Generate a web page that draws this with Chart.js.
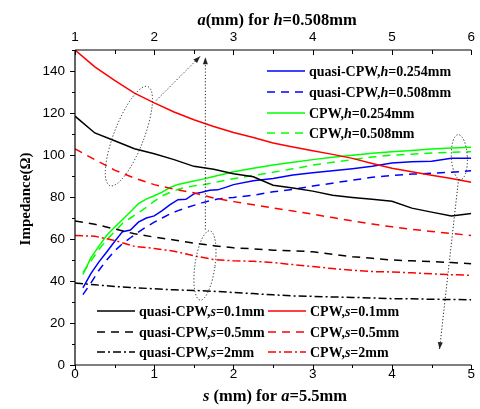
<!DOCTYPE html>
<html>
<head>
<meta charset="utf-8">
<script src="https://cdn.jsdelivr.net/npm/chart.js@4.4.0/dist/chart.umd.min.js"></script>
<style>
  html, body { margin: 0; padding: 0; background: #fff; }
</style>
</head>
<body>
<canvas id="chart" width="480" height="409"></canvas>
<script>
// bottom axis: s (mm), used by the h curves
const S_VALUES = [0.1, 0.2, 0.3, 0.4, 0.5, 0.6, 0.7, 0.8, 0.9, 1.0, 1.1, 1.2, 1.3, 1.4, 1.5, 1.6, 1.7, 1.8, 1.9, 2.0,
  2.25, 2.5, 2.75, 3.0, 3.25, 3.5, 3.75, 4.0, 4.25, 4.5, 4.75, 5.0];
const QUASI_H254 = [36.7, 43.5, 49, 53.8, 58.8, 63.5, 64.3, 68, 70, 71, 73.5, 76.4, 78.7, 78.9, 81.5, 82.3, 83.2, 83.4, 84.6, 85.9,
  87.7, 88.8, 90.5, 91.6, 92.5, 93.5, 94.6, 96.2, 96.8, 97, 98.4, 98.4];
const QUASI_H508 = [33.5, 39, 45, 50, 54.3, 57.8, 60.6, 63.3, 65.8, 68, 70, 72, 73.5, 74.8, 76, 77.2, 78.2, 79, 79.5, 79.8,
  80.8, 82.5, 83.6, 85.2, 86.6, 88, 89.4, 90.3, 90.9, 91.3, 91.8, 92.5];
const CPW_H254 = [43.1, 51, 56.5, 61.8, 65.6, 69.3, 73, 76.8, 79, 80.6, 82.3, 84.5, 86, 86.8, 87.6, 88.4, 89.3, 90.2, 91.1, 92,
  93.7, 95.2, 96.5, 97.8, 98.9, 99.9, 100.8, 101.6, 102.2, 102.8, 103.3, 103.7];
const CPW_H508 = [44, 49.5, 55, 59.5, 63.5, 67.5, 70, 72.5, 75, 78, 80.5, 82.2, 83.6, 84.6, 85.3, 85.8, 86.4, 87.2, 88, 88.7,
  90.3, 91.8, 93.4, 95.2, 96.5, 97.8, 99, 99.9, 100.4, 100.9, 101.3, 101.6];

// top axis: a (mm), used by the s curves
const A_VALUES = [1, 1.25, 1.5, 1.75, 2, 2.25, 2.5, 2.75, 3, 3.25, 3.5, 3.75, 4, 4.25, 4.5, 4.75, 5, 5.25, 5.5, 5.75, 6];
const QUASI_S01 = [118.5, 110.5, 106.8, 103, 100.6, 97.8, 94.6, 93.2, 91.1, 89.6, 85.6, 84.3, 82.8, 80.8, 79.8, 78.9, 78, 74.7, 72.8, 70.9, 72.1];
const CPW_S01 = [150, 142, 135.5, 129.5, 124.8, 120.5, 116.8, 113.6, 110.7, 108.3, 105.7, 103.8, 102, 100.3, 98.4, 96, 93.7, 92, 90.4, 88.8, 87];
const QUASI_S05 = [68.6, 67, 64.8, 62.5, 60.9, 59.5, 58, 56.8, 55.8, 55.3, 54.7, 54.4, 53.9, 52.7, 51.6, 50.8, 50, 49.6, 49.2, 48.8, 48.2];
const CPW_S05 = [102.9, 97.8, 92.8, 89, 85.9, 83.7, 82, 79.5, 77.8, 76.3, 74.8, 73.3, 71.8, 70.2, 68.6, 67.1, 65.8, 64.6, 63.6, 62.6, 61.7];
const QUASI_S2 = [39.1, 38.2, 37.4, 36.8, 36.3, 35.8, 35.5, 35.1, 34.5, 34, 33.4, 32.9, 32.7, 32.4, 32.2, 31.9, 31.6, 31.5, 31.3, 31.2, 31.1];
const CPW_S2 = [61.7, 61.3, 59.3, 56.5, 55.5, 54.2, 52, 50.2, 49.6, 49.4, 48.8, 47.8, 46.9, 45.9, 45.1, 44.5, 44.3, 43.9, 43.4, 43, 42.7];

const S_TICKS = [0, 1, 2, 3, 4, 5];
const A_TICKS = [1, 2, 3, 4, 5, 6];
const Y_TICKS = [0, 20, 40, 60, 80, 100, 120, 140];

const BLUE = '#0000ff', GREEN = '#00ff00', RED = '#ff0000', BLACK = '#000000';
const SOLID = [], DASH = [8, 6], DASHDOT = [8, 3, 2, 3];

function pts(xs, ys) {
  return xs.map((x, i) => ({ x: x, y: ys[i] }));
}

function series(label, xs, ys, color, dash, axis) {
  return {
    label: label,
    data: pts(xs, ys),
    borderColor: color,
    borderDash: dash,
    borderWidth: 1.5,
    pointRadius: 0,
    tension: 0,
    fill: false,
    xAxisID: axis
  };
}

const datasets = [
  series('quasi-CPW,s=2mm', A_VALUES, QUASI_S2, BLACK, DASHDOT, 'x2'),
  series('CPW,s=2mm', A_VALUES, CPW_S2, RED, DASHDOT, 'x2'),
  series('quasi-CPW,s=0.5mm', A_VALUES, QUASI_S05, BLACK, DASH, 'x2'),
  series('CPW,s=0.5mm', A_VALUES, CPW_S05, RED, DASH, 'x2'),
  series('quasi-CPW,s=0.1mm', A_VALUES, QUASI_S01, BLACK, SOLID, 'x2'),
  series('CPW,s=0.1mm', A_VALUES, CPW_S01, RED, SOLID, 'x2'),
  series('quasi-CPW,h=0.508mm', S_VALUES, QUASI_H508, BLUE, DASH, 'x'),
  series('CPW,h=0.508mm', S_VALUES, CPW_H508, GREEN, DASH, 'x'),
  series('quasi-CPW,h=0.254mm', S_VALUES, QUASI_H254, BLUE, SOLID, 'x'),
  series('CPW,h=0.254mm', S_VALUES, CPW_H254, GREEN, SOLID, 'x')
];

const SERIF = '"Liberation Serif", "Times New Roman", serif';

// text with italic pieces, parts = [[text, italic], ...]
function richText(ctx, parts, x, y, size, align) {
  const fonts = parts.map(p => (p[1] ? 'italic ' : '') + 'bold ' + size + 'px ' + SERIF);
  let w = 0;
  parts.forEach((p, i) => { ctx.font = fonts[i]; w += ctx.measureText(p[0]).width; });
  let cx = align === 'center' ? x - w / 2 : x;
  ctx.textAlign = 'left';
  parts.forEach((p, i) => {
    ctx.font = fonts[i];
    ctx.fillText(p[0], cx, y);
    cx += ctx.measureText(p[0]).width;
  });
}

function legendRow(ctx, x, y, color, dash, parts) {
  ctx.save();
  ctx.strokeStyle = color;
  ctx.lineWidth = 1.5;
  ctx.setLineDash(dash);
  ctx.beginPath();
  ctx.moveTo(x, y);
  ctx.lineTo(x + 38, y);
  ctx.stroke();
  ctx.restore();
  ctx.fillStyle = '#000';
  ctx.textBaseline = 'middle';
  richText(ctx, parts, x + 42, y + 1, 14, 'left');
}

function dottedArrow(ctx, x1, y1, x2, y2) {
  ctx.beginPath();
  ctx.moveTo(x1, y1);
  ctx.lineTo(x2, y2);
  ctx.stroke();
  const ang = Math.atan2(y2 - y1, x2 - x1);
  ctx.save();
  ctx.setLineDash([]);
  ctx.beginPath();
  ctx.moveTo(x2, y2);
  ctx.lineTo(x2 - 7 * Math.cos(ang) + 2.5 * Math.sin(ang), y2 - 7 * Math.sin(ang) - 2.5 * Math.cos(ang));
  ctx.lineTo(x2 - 7 * Math.cos(ang) - 2.5 * Math.sin(ang), y2 - 7 * Math.sin(ang) + 2.5 * Math.cos(ang));
  ctx.closePath();
  ctx.fill();
  ctx.restore();
}

const decor = {
  id: 'decor',
  afterDraw(chart) {
    const ctx = chart.ctx;
    const ca = chart.chartArea;
    const sx = chart.scales.x, ax = chart.scales.x2, y = chart.scales.y;
    ctx.save();

    // axis lines
    ctx.strokeStyle = '#000';
    ctx.lineWidth = 1.2;
    ctx.beginPath();
    ctx.moveTo(ca.left, ca.top); ctx.lineTo(ca.left, ca.bottom);
    ctx.moveTo(ca.left, ca.bottom); ctx.lineTo(ca.right, ca.bottom);
    ctx.moveTo(ca.left, ca.top); ctx.lineTo(ca.right, ca.top);
    ctx.stroke();

    // ticks: y and bottom outward, top inward
    ctx.lineWidth = 1;
    ctx.beginPath();
    for (let v = 0; v <= 150; v += 10) {
      const py = Math.round(y.getPixelForValue(v)) + 0.5;
      const len = v % 20 === 0 ? 5 : 3;
      ctx.moveTo(ca.left, py); ctx.lineTo(ca.left - len, py);
    }
    for (let v = 0; v <= 5; v += 0.5) {
      const px = Math.round(sx.getPixelForValue(v)) + 0.5;
      const len = v % 1 === 0 ? 5 : 3;
      ctx.moveTo(px, ca.bottom); ctx.lineTo(px, ca.bottom + len);
    }
    for (let v = 1; v <= 6; v += 0.5) {
      const px = Math.round(ax.getPixelForValue(v)) + 0.5;
      const len = v % 1 === 0 ? 5 : 4;
      ctx.moveTo(px, ca.top); ctx.lineTo(px, ca.top + len);
    }
    ctx.stroke();

    // dotted ellipses and arrows
    ctx.strokeStyle = '#222';
    ctx.fillStyle = '#222';
    ctx.lineWidth = 1;
    ctx.setLineDash([1.2, 2]);
    ctx.beginPath();
    ctx.ellipse(sx.getPixelForValue(0.68), y.getPixelForValue(109), 15, 53, 21 * Math.PI / 180, 0, 2 * Math.PI);
    ctx.stroke();
    dottedArrow(ctx, sx.getPixelForValue(1.025), y.getPixelForValue(126), sx.getPixelForValue(1.58), y.getPixelForValue(147));
    ctx.beginPath();
    ctx.ellipse(sx.getPixelForValue(1.64), y.getPixelForValue(47.4), 10, 35, 8 * Math.PI / 180, 0, 2 * Math.PI);
    ctx.stroke();
    dottedArrow(ctx, sx.getPixelForValue(1.645), y.getPixelForValue(64.5), sx.getPixelForValue(1.645), y.getPixelForValue(146.5));
    ctx.beginPath();
    ctx.ellipse(sx.getPixelForValue(4.85), y.getPixelForValue(99), 8, 22.5, -3 * Math.PI / 180, 0, 2 * Math.PI);
    ctx.stroke();
    dottedArrow(ctx, sx.getPixelForValue(4.84), y.getPixelForValue(88.5), sx.getPixelForValue(4.6), y.getPixelForValue(7.5));
    ctx.setLineDash([]);

    // legends
    legendRow(ctx, 267, 71, BLUE, SOLID, [['quasi-CPW,', false], ['h', true], ['=0.254mm', false]]);
    legendRow(ctx, 267, 92, BLUE, DASH, [['quasi-CPW,', false], ['h', true], ['=0.508mm', false]]);
    legendRow(ctx, 267, 113, GREEN, SOLID, [['CPW,', false], ['h', true], ['=0.254mm', false]]);
    legendRow(ctx, 267, 133, GREEN, DASH, [['CPW,', false], ['h', true], ['=0.508mm', false]]);

    legendRow(ctx, 97, 311, BLACK, SOLID, [['quasi-CPW,', false], ['s', true], ['=0.1mm', false]]);
    legendRow(ctx, 97, 332, BLACK, DASH, [['quasi-CPW,', false], ['s', true], ['=0.5mm', false]]);
    legendRow(ctx, 97, 352, BLACK, DASHDOT, [['quasi-CPW,', false], ['s', true], ['=2mm', false]]);
    legendRow(ctx, 268, 311, RED, SOLID, [['CPW,', false], ['s', true], ['=0.1mm', false]]);
    legendRow(ctx, 268, 332, RED, DASH, [['CPW,', false], ['s', true], ['=0.5mm', false]]);
    legendRow(ctx, 268, 352, RED, DASHDOT, [['CPW,', false], ['s', true], ['=2mm', false]]);

    // axis titles
    ctx.fillStyle = '#000';
    ctx.textBaseline = 'alphabetic';
    richText(ctx, [['a', true], ['(mm) for ', false], ['h', true], ['=0.508mm', false]], 277, 25, 16.5, 'center');
    richText(ctx, [['s', true], [' (mm) for ', false], ['a', true], ['=5.5mm', false]], 275, 401, 16.5, 'center');
    ctx.save();
    ctx.translate(26, 199);
    ctx.rotate(-Math.PI / 2);
    ctx.textBaseline = 'middle';
    richText(ctx, [['Impedance(Ω)', false]], 0, 0, 15, 'center');
    ctx.restore();

    ctx.restore();
  }
};

const tickFont = { family: '"Liberation Sans", Arial, sans-serif', size: 13.5 };

new Chart(document.getElementById('chart'), {
  type: 'line',
  data: { datasets: datasets },
  options: {
    responsive: false,
    animation: false,
    layout: { padding: { left: 0, right: 5, top: 0, bottom: 0 } },
    plugins: { legend: { display: false }, tooltip: { enabled: false } },
    scales: {
      x: {
        type: 'linear', position: 'bottom', min: 0, max: 5,
        grid: { display: false, drawTicks: false }, border: { display: false },
        afterBuildTicks: s => { s.ticks = S_TICKS.map(v => ({ value: v })); },
        afterFit: s => { s.height = 44; },
        ticks: { color: '#000', font: tickFont, padding: 1, maxRotation: 0 }
      },
      x2: {
        type: 'linear', position: 'top', min: 1, max: 6,
        grid: { display: false, drawTicks: false }, border: { display: false },
        afterBuildTicks: s => { s.ticks = A_TICKS.map(v => ({ value: v })); },
        afterFit: s => { s.height = 50; },
        ticks: { color: '#000', font: tickFont, padding: 5, maxRotation: 0 }
      },
      y: {
        type: 'linear', min: 0, max: 150,
        grid: { display: false, drawTicks: false }, border: { display: false },
        afterBuildTicks: s => { s.ticks = Y_TICKS.map(v => ({ value: v })); },
        afterFit: s => { s.width = 75; },
        ticks: { color: '#000', font: tickFont, padding: 10 }
      }
    }
  },
  plugins: [decor]
});
</script>
</body>
</html>
